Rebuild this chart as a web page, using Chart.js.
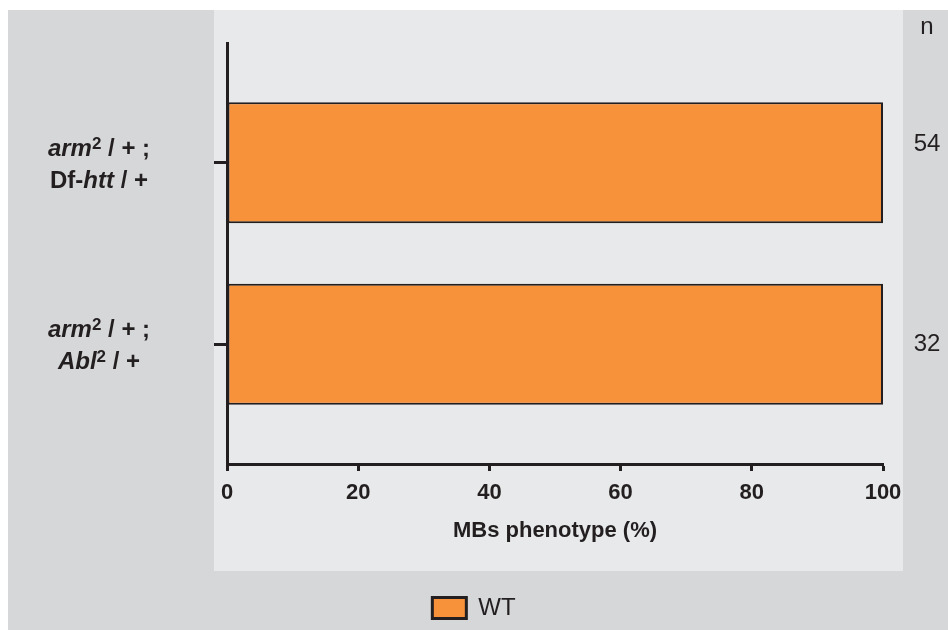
<!DOCTYPE html>
<html lang="en">
<head>
<meta charset="UTF-8">
<title>MBs phenotype</title>
<script src="https://cdn.jsdelivr.net/npm/chart.js"></script>
<style>
  html, body { margin: 0; padding: 0; background: #ffffff; }
  canvas { display: block; }
</style>
</head>
<body>
<canvas id="chart" width="948" height="630"></canvas>
<script>
// genotype rows: each line is a list of [text, style] segments (b = bold, bi = bold italic, sup = superscript)
const categories = [
  [[['arm', 'bi'], ['2', 'sup'], [' / + ;', 'b']], [['Df-', 'b'], ['htt', 'bi'], [' / +', 'b']]],
  [[['arm', 'bi'], ['2', 'sup'], [' / + ;', 'b']], [['Abl', 'bi'], ['2', 'sup'], [' / +', 'b']]]
];
const seriesName = 'WT';
const wtPercent = [100, 100];
const nCounts = [54, 32];
const xTicks = [0, 20, 40, 60, 80, 100];

const INK = '#231f20';
const ORANGE = '#f7923a';
const FONT = "'Liberation Sans', Arial, Helvetica, sans-serif";

const fontFor = {
  b: 'bold 24px ' + FONT,
  bi: 'italic bold 24px ' + FONT,
  sup: 'bold 17px ' + FONT
};

// panels behind the plot
const backdrop = {
  id: 'backdrop',
  beforeDraw(chart) {
    const ctx = chart.ctx;
    ctx.save();
    ctx.fillStyle = '#d6d7d9';
    ctx.fillRect(8, 10, chart.width - 8, chart.height - 10);
    ctx.fillStyle = '#e8e9eb';
    ctx.fillRect(214, 10, 689, 561);
    ctx.restore();
  }
};

// rich-text row labels and the n column
const rowText = {
  id: 'rowText',
  afterDraw(chart) {
    const ctx = chart.ctx;
    const y = chart.scales.y;
    ctx.save();
    ctx.fillStyle = INK;
    ctx.textBaseline = 'alphabetic';
    categories.forEach((lines, i) => {
      const cy = y.getPixelForValue(i + 1);
      const baselines = [cy - 7, cy + 25];
      lines.forEach((segs, li) => {
        let w = 0;
        segs.forEach(([t, s]) => { ctx.font = fontFor[s]; w += ctx.measureText(t).width; });
        let x = 99 - w / 2;
        segs.forEach(([t, s]) => {
          ctx.font = fontFor[s];
          ctx.textAlign = 'left';
          ctx.fillText(t, x, baselines[li] - (s === 'sup' ? 7 : 0));
          x += ctx.measureText(t).width;
        });
      });
    });

    // n column
    ctx.font = '24px ' + FONT;
    ctx.textAlign = 'center';
    ctx.textBaseline = 'middle';
    ctx.fillText('n', 927, 27);
    const nNudge = [-18, 0];
    nCounts.forEach((n, i) => {
      ctx.fillText(String(n), 927, y.getPixelForValue(i + 1) + nNudge[i]);
    });
    ctx.restore();
  }
};

const ctx = document.getElementById('chart').getContext('2d');
new Chart(ctx, {
  type: 'bar',
  data: {
    datasets: [{
      label: seriesName,
      data: wtPercent.map((v, i) => ({ x: v, y: i + 1 })),
      backgroundColor: ORANGE,
      borderColor: INK,
      borderWidth: 2,
      borderSkipped: false,
      barPercentage: 0.667,
      categoryPercentage: 1
    }]
  },
  options: {
    indexAxis: 'y',
    responsive: false,
    animation: false,
    devicePixelRatio: 1,
    layout: { padding: { top: 43, right: 0, left: 0, bottom: 0 } },
    plugins: {
      tooltip: { enabled: false },
      legend: {
        position: 'bottom',
        align: 'center',
        labels: {
          boxWidth: 34,
          boxHeight: 21,
          padding: 10,
          color: INK,
          font: { family: FONT, size: 24 },
          generateLabels(chart) {
            const items = Chart.defaults.plugins.legend.labels.generateLabels(chart);
            items.forEach(it => { it.lineWidth = 3; it.strokeStyle = INK; });
            return items;
          }
        }
      }
    },
    scales: {
      x: {
        type: 'linear',
        min: xTicks[0],
        max: xTicks[xTicks.length - 1],
        offset: false,
        afterBuildTicks: s => { s.ticks = xTicks.map(v => ({ value: v })); },
        afterFit: s => { s.height = 122; },
        border: { display: true, width: 3, color: INK },
        grid: { offset: false, drawOnChartArea: false, drawTicks: true, tickLength: 7, tickWidth: 3, tickColor: INK },
        ticks: {
          padding: 9,
          color: INK,
          maxRotation: 0,
          font: { family: FONT, size: 22, weight: 'bold' }
        },
        title: {
          display: true,
          text: 'MBs phenotype (%)',
          color: INK,
          font: { family: FONT, size: 22, weight: 'bold' },
          padding: { top: 0, bottom: 42 }
        }
      },
      y: {
        type: 'linear',
        reverse: true,
        min: 0.34,
        max: 2.66,
        offset: false,
        afterBuildTicks: s => { s.ticks = categories.map((c, i) => ({ value: i + 1 })); },
        afterFit: s => { s.width = 227; },
        border: { display: true, width: 3, color: INK },
        grid: { offset: false, drawOnChartArea: false, drawTicks: true, tickLength: 13, tickWidth: 3, tickColor: INK },
        ticks: { display: false }
      },
      // empty right-hand strip that keeps the n column free
      nCol: {
        type: 'linear',
        axis: 'y',
        position: 'right',
        afterFit: s => { s.width = 65; },
        border: { display: false },
        grid: { display: false },
        ticks: { display: false }
      }
    }
  },
  plugins: [backdrop, rowText]
});
</script>
</body>
</html>
